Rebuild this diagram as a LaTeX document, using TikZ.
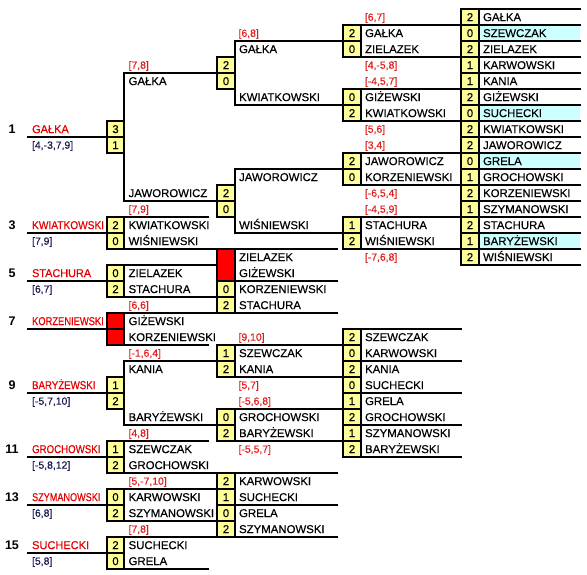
\documentclass[tikz,border=0pt]{standalone}
\usepackage{fontspec}
\usepackage{graphicx}
\setmainfont{Liberation Sans}[FakeBold=0]
\newfontfamily\darkfont{Liberation Sans}[FakeBold=0.35]
\definecolor{cellY}{RGB}{255,255,153}
\definecolor{cellC}{RGB}{204,255,255}
\definecolor{nameR}{RGB}{232,0,0}
\definecolor{labR}{RGB}{226,28,28}
\definecolor{labB}{RGB}{24,24,80}
\begin{document}
\begin{tikzpicture}[x=1pt,y=-1pt,line width=2.2pt,line cap=rect,
 nm/.style={anchor=base west,inner sep=0pt,font=\darkfont\fontsize{11.4}{13}\selectfont},
 sc/.style={anchor=base,inner sep=0pt,font=\darkfont\fontsize{11.4}{13}\selectfont},
 lab/.style={anchor=base west,inner sep=0pt,text=labR,font=\darkfont\fontsize{10.4}{12}\selectfont},
 slab/.style={lab,text=labB},
 rname/.style={nm,text=nameR},
 seedno/.style={anchor=base,inner sep=0pt,font=\bfseries\fontsize{12.5}{14}\selectfont},
 cellbox/.style={draw=black,fill=cellY},
 redbox/.style={draw=black,fill=red}]
\fill[white] (0,0) rectangle (587,575);
\useasboundingbox (0,0) rectangle (587,575);

% ---------- column 4 ----------
\foreach \s/\n/\f [count=\i from 0] in {2/GAŁKA/white,0/SZEWCZAK/cellC,2/ZIELAZEK/white,1/KARWOWSKI/white,1/KANIA/white,2/GIŻEWSKI/white,0/SUCHECKI/cellC,2/KWIATKOWSKI/white,2/JAWOROWICZ/white,0/GRELA/cellC,1/GROCHOWSKI/white,2/KORZENIEWSKI/white,1/SZYMANOWSKI/white,2/STACHURA/white,1/BARYŻEWSKI/cellC,2/WIŚNIEWSKI/white}{
  \fill[\f] (479,{9+16*\i}) rectangle (580,{25+16*\i});
  \filldraw[cellbox] (461,{9+16*\i}) rectangle (479,{25+16*\i});
  \draw (479,{9+16*\i}) -- (580,{9+16*\i});
  \node[sc] (c4s\i) at (470,{21.1+16*\i}) {\s};
  \node[nm] (c4n\i) at (482,{21.1+16*\i}) {\n};
}
\draw (479,265) -- (580,265);

% ---------- column 3 upper ----------
\foreach \yt/\sa/\na/\sb/\nb/\la/\lb [count=\i] in {
 25/2/GAŁKA/0/ZIELAZEK/{[6,7]}/{[4,-5,8]},
 89/0/GIŻEWSKI/2/KWIATKOWSKI/{[-4,5,7]}/{[5,6]},
 153/2/JAWOROWICZ/0/KORZENIEWSKI/{[3,4]}/{[-6,5,4]},
 217/1/STACHURA/2/WIŚNIEWSKI/{[-4,5,9]}/{[-7,6,8]}}{
  \filldraw[cellbox] (343,\yt) rectangle (361,\yt+16);
  \filldraw[cellbox] (343,\yt+16) rectangle (361,\yt+32);
  \draw (343,\yt) -- (461,\yt) (343,\yt+32) -- (461,\yt+32);
  \node[sc] (c3sa\i) at (352,\yt+12.1) {\sa};
  \node[sc] (c3sb\i) at (352,\yt+28.1) {\sb};
  \node[nm] (c3na\i) at (364,\yt+12.1) {\na};
  \node[nm] (c3nb\i) at (364,\yt+28.1) {\nb};
  \node[lab] (c3la\i) at (363.8,\yt-4.3) {\la};
  \node[lab] (c3lb\i) at (363.8,\yt+43.7) {\lb};
}

% ---------- column 3 lower ----------
\foreach \s/\n [count=\i from 0] in {2/SZEWCZAK,0/KARWOWSKI,2/KANIA,0/SUCHECKI,1/GRELA,2/GROCHOWSKI,1/SZYMANOWSKI,2/BARYŻEWSKI}{
  \filldraw[cellbox] (343,{329+16*\i}) rectangle (361,{345+16*\i});
  \node[sc] (c3ls\i) at (352,{341.1+16*\i}) {\s};
  \node[nm] (c3ln\i) at (364,{341.1+16*\i}) {\n};
}
\foreach \k in {0,...,4} \draw (343,{329+32*\k}) -- (461,{329+32*\k});

% ---------- column 2 upper ----------
\filldraw[cellbox] (217,57) rectangle (235,73);
\filldraw[cellbox] (217,73) rectangle (235,89);
\node[sc] (u1a) at (226,69.1) {2};
\node[sc] (u1b) at (226,85.1) {0};
\draw (343,41) -- (235,41) -- (235,105) -- (343,105);
\node[nm] (u1n1) at (238,53.1) {GAŁKA};
\node[nm] (u1n2) at (238,101.1) {KWIATKOWSKI};
\node[lab] (u1l) at (237.5,36.8) {[6,8]};

\filldraw[cellbox] (217,185) rectangle (235,201);
\filldraw[cellbox] (217,201) rectangle (235,217);
\node[sc] (u2a) at (226,197.1) {2};
\node[sc] (u2b) at (226,213.1) {0};
\draw (343,169) -- (235,169) -- (235,233) -- (343,233);
\node[nm] (u2n1) at (238,181.1) {JAWOROWICZ};
\node[nm] (u2n2) at (238,229.1) {WIŚNIEWSKI};

% ---------- column 2 group 1 ----------
\filldraw[redbox] (217,249) rectangle (235,281);
\filldraw[cellbox] (217,281) rectangle (235,297);
\filldraw[cellbox] (217,297) rectangle (235,313);
\draw (217,249) -- (337,249) (235,281) -- (337,281) (217,313) -- (337,313);
\node[sc] (g1s3) at (226,293.1) {0};
\node[sc] (g1s4) at (226,309.1) {2};
\node[nm] (g1n1) at (238,261.1) {ZIELAZEK};
\node[nm] (g1n2) at (238,277.1) {GIŻEWSKI};
\node[nm] (g1n3) at (238,293.1) {KORZENIEWSKI};
\node[nm] (g1n4) at (238,309.1) {STACHURA};

% ---------- column 2 boxes B and A ----------
\foreach \yt/\sa/\na/\sb/\nb/\la/\lb [count=\i] in {
 345/1/SZEWCZAK/2/KANIA/{[9,10]}/{[5,7]},
 409/0/GROCHOWSKI/2/BARYŻEWSKI/{[-5,6,8]}/{[-5,5,7]}}{
  \filldraw[cellbox] (217,\yt) rectangle (235,\yt+16);
  \filldraw[cellbox] (217,\yt+16) rectangle (235,\yt+32);
  \draw (217,\yt) -- (343,\yt) (217,\yt+32) -- (343,\yt+32);
  \node[sc] (c2sa\i) at (226,\yt+12.1) {\sa};
  \node[sc] (c2sb\i) at (226,\yt+28.1) {\sb};
  \node[nm] (c2na\i) at (238,\yt+12.1) {\na};
  \node[nm] (c2nb\i) at (238,\yt+28.1) {\nb};
  \node[lab] (c2la\i) at (237.5,\yt-4.3) {\la};
  \node[lab] (c2lb\i) at (237.5,\yt+43.7) {\lb};
}

% ---------- column 2 group 2 ----------
\foreach \s/\n [count=\i from 0] in {2/KARWOWSKI,1/SUCHECKI,0/GRELA,2/SZYMANOWSKI}{
  \filldraw[cellbox] (217,{473+16*\i}) rectangle (235,{489+16*\i});
  \node[sc] (g2s\i) at (226,{485.1+16*\i}) {\s};
  \node[nm] (g2n\i) at (238,{485.1+16*\i}) {\n};
}
\draw (217,473) -- (337,473) (217,505) -- (337,505) (217,537) -- (337,537);

% ---------- column 1 tall boxes ----------
\filldraw[cellbox] (107,121) rectangle (124,137);
\filldraw[cellbox] (107,137) rectangle (124,153);
\draw (217,73) -- (124,73) -- (124,201) -- (217,201);
\node[sc] (t1a) at (115.5,133.1) {3};
\node[sc] (t1b) at (115.5,149.1) {1};
\node[nm] (t1n1) at (127.5,85.1) {GAŁKA};
\node[nm] (t1n2) at (127.5,197.1) {JAWOROWICZ};
\node[lab] (t1l) at (127.5,68.7) {[7,8]};

\filldraw[cellbox] (107,377) rectangle (124,393);
\filldraw[cellbox] (107,393) rectangle (124,409);
\draw (217,361) -- (124,361) -- (124,425) -- (217,425);
\node[sc] (t9a) at (115.5,389.1) {1};
\node[sc] (t9b) at (115.5,405.1) {2};
\node[nm] (t9n1) at (127.5,373.1) {KANIA};
\node[nm] (t9n2) at (127.5,421.1) {BARYŻEWSKI};
\node[lab] (t9l) at (127.5,356.7) {[-1,6,4]};

% ---------- column 1 two-row boxes ----------
\foreach \yt/\sa/\na/\sb/\nb/\fc/\xa/\xb/\lb [count=\i] in {
 217/2/KWIATKOWSKI/0/WIŚNIEWSKI/cellY/208/217/{[7,9]},
 265/0/ZIELAZEK/2/STACHURA/cellY/217/217/{},
 313/{}/GIŻEWSKI/{}/KORZENIEWSKI/red/217/208/{[6,6]},
 441/1/SZEWCZAK/2/GROCHOWSKI/cellY/208/217/{[4,8]},
 489/0/KARWOWSKI/2/SZYMANOWSKI/cellY/217/217/{[5,-7,10]},
 537/2/SUCHECKI/0/GRELA/cellY/217/208/{[7,8]}}{
  \filldraw[draw=black,fill=\fc] (107,\yt) rectangle (124,\yt+16);
  \filldraw[draw=black,fill=\fc] (107,\yt+16) rectangle (124,\yt+32);
  \draw (107,\yt) -- (\xa,\yt) (107,\yt+32) -- (\xb,\yt+32);
  \node[sc] (bsa\i) at (115.5,\yt+12.1) {\sa};
  \node[sc] (bsb\i) at (115.5,\yt+28.1) {\sb};
  \node[nm] (bna\i) at (127.5,\yt+12.1) {\na};
  \node[nm] (bnb\i) at (127.5,\yt+28.1) {\nb};
  \node[lab] (bl\i) at (127.5,\yt-4.3) {\lb};
}

% ---------- seeds ----------
\foreach \no/\nm/\w/\yl/\lb [count=\i] in {
 1/GAŁKA/36.7/137/{[4,-3,7,9]},
 3/KWIATKOWSKI/72/233/{[7,9]},
 5/STACHURA/59/281/{[6,7]},
 7/KORZENIEWSKI/71.7/329/{},
 9/BARYŻEWSKI/63.3/393/{[-5,7,10]},
 11/GROCHOWSKI/68.3/457/{[-5,8,12]},
 13/SZYMANOWSKI/68.3/505/{[6,8]},
 15/SUCHECKI/57/553/{[5,8]}}{
  \draw (28,\yl) -- (107,\yl);
  \node[seedno] (sn\i) at (12,\yl-3.5) {\no};
  \node[rname] (sr\i) at (31,\yl-3.9) {\resizebox{\w pt}{\height}{\nm}};
  \node[slab] (sl\i) at (31,\yl+11.7) {\lb};
}
\end{tikzpicture}
\end{document}
